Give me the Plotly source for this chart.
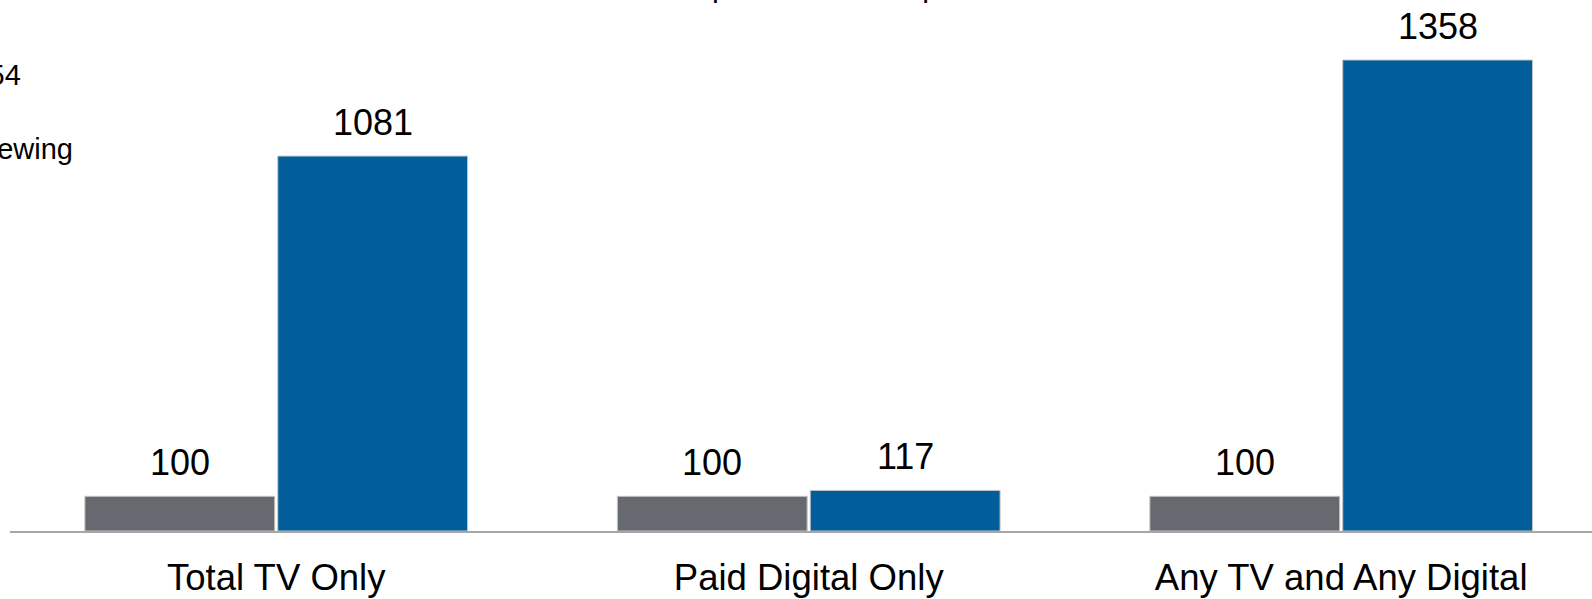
import plotly.graph_objects as go

# Chart data
categories = ["Total TV Only", "Paid Digital Only", "Any TV and Any Digital"]
base_index = [100, 100, 100]
exposed_index = [1081, 117, 1358]

grey = "#666a70"
blue = "#025e9b"
font_family = "Liberation Sans, Arial, sans-serif"

BARGAP = 0.2755
BARGROUPGAP = 0.016

fig = go.Figure()
fig.add_trace(go.Bar(
    x=categories, y=base_index, name="Base",
    marker=dict(color=grey, line=dict(color="#c4c4c4", width=1)),
    hoverinfo="skip",
))
fig.add_trace(go.Bar(
    x=categories, y=exposed_index, name="Exposed",
    marker=dict(color=blue, line=dict(color="#c4c4c4", width=1)),
    hoverinfo="skip",
))

# value labels above each bar, centred on its slot within the group
offset = (1 - BARGAP) / 4
annotations = []
for i, (b, e) in enumerate(zip(base_index, exposed_index)):
    for dx, v in ((-offset, b), (offset, e)):
        annotations.append(dict(
            x=i + dx, y=v, xref="x", yref="y", text=str(v),
            showarrow=False, yanchor="bottom", yshift=11,
            font=dict(size=36, color="black", family=font_family),
        ))

# chart heading and side notes
annotations.append(dict(
    x=0.4536, y=0.9906, xref="paper", yref="paper",
    text="Sales Lift Index: Exposed vs. Unexposed",
    showarrow=False, xanchor="center", yanchor="bottom",
    font=dict(size=30.5, color="black", family=font_family),
))
annotations.append(dict(
    x=(23 - 10) / 1582, y=1 - 93 / 531, xref="paper", yref="paper",
    text="Adults 18-54", showarrow=False, xanchor="right", yanchor="bottom",
    font=dict(size=29, color="black", family=font_family),
))
annotations.append(dict(
    x=(75 - 10) / 1582, y=1 - 167 / 531, xref="paper", yref="paper",
    text="Index of viewing", showarrow=False, xanchor="right", yanchor="bottom",
    font=dict(size=29, color="black", family=font_family),
))

fig.update_layout(
    width=1592, height=599,
    margin=dict(l=10, r=0, t=0, b=68, pad=0, autoexpand=False),
    paper_bgcolor="white", plot_bgcolor="white",
    barmode="group", bargap=BARGAP, bargroupgap=BARGROUPGAP,
    showlegend=False,
    annotations=annotations,
    xaxis=dict(
        type="category", range=[-0.5, 2.471], automargin=False,
        showline=True, linecolor="#a6a6a6", linewidth=1.5,
        showgrid=False, zeroline=False, ticks="",
        ticklabelstandoff=13,
        tickfont=dict(size=36.5, color="black", family=font_family),
    ),
    yaxis=dict(range=[0, 1531], visible=False, fixedrange=True),
)

fig.write_html("out.html", config={"displayModeBar": False})
